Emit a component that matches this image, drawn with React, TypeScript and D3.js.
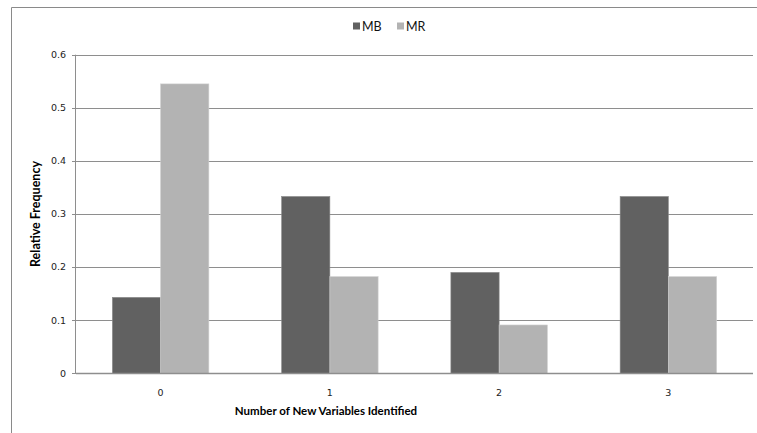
import React from "react";
import * as d3 from "d3";

const categories = ["0", "1", "2", "3"];
const seriesNames = ["MB", "MR"];
const mbValues = [0.143, 0.333, 0.19, 0.333];
const mrValues = [0.545, 0.182, 0.091, 0.182];
const yTicks = [0, 0.1, 0.2, 0.3, 0.4, 0.5, 0.6];
const colors = ["#616161", "#b3b3b3"];

export default function App() {
  const W = 757, H = 433;
  const left = 76, right = 753, top = 54.7, bottom = 373.3;
  const x = d3.scaleBand<string>().domain(categories).range([left, right]).paddingInner(0.43).paddingOuter(0.215);
  const inner = d3.scaleBand<string>().domain(seriesNames).range([0, x.bandwidth()]);
  const y = d3.scaleLinear().domain([0, 0.6]).range([bottom, top]);
  const series = [mbValues, mrValues];
  const tickFont = "Verdana, 'DejaVu Sans', sans-serif";
  const titleFont = "Lato, 'Open Sans', sans-serif";
  return (
    <svg width={W} height={H} style={{ position: "absolute", left: 0, top: 0, background: "#fff" }}>
      <rect x={0} y={0} width={W} height={H} fill="#fff" />
      <path d={`M11.5,${H} V7.5 H${W}`} fill="none" stroke="#8a8a8a" strokeWidth={1} />
      {yTicks.map((t) => (
        <g key={t}>
          {t > 0 && <line x1={left} x2={right} y1={Math.round(y(t)) + 0.5} y2={Math.round(y(t)) + 0.5} stroke="#8e8e8e" strokeWidth={1} />}
          <line x1={72} x2={left} y1={Math.round(y(t)) + 0.5} y2={Math.round(y(t)) + 0.5} stroke="#8e8e8e" />
          <text x={66} y={y(t)} dy="0.35em" textAnchor="end" fontSize={9.5} fontFamily={tickFont} fill="#222">{t === 0 ? "0" : d3.format(".1f")(t)}</text>
        </g>
      ))}
      {categories.map((c, i) => (
        <g key={c}>
          {seriesNames.map((s, j) => {
            const v = series[j][i];
            return (
              <rect key={s} x={(x(c) as number) + (inner(s) as number)} y={y(v)} width={inner.bandwidth()} height={y(0) - y(v)}
                fill={colors[j]} stroke={j === 0 ? "#8a8a8a" : "#cfcfcf"} strokeWidth={0.6} />
            );
          })}
          <text x={(x(c) as number) + x.bandwidth() / 2} y={393} dy="0.35em" textAnchor="middle" fontSize={9.5} fontFamily={tickFont} fill="#222">{c}</text>
        </g>
      ))}
      <line x1={left - 0.5} x2={left - 0.5} y1={top} y2={Math.round(bottom) + 0.5} stroke="#8e8e8e" />
      <line x1={left} x2={right} y1={Math.round(bottom) + 0.5} y2={Math.round(bottom) + 0.5} stroke="#8e8e8e" strokeWidth={1.5} />
      <text x={326} y={411} dy="0.35em" textAnchor="middle" fontSize={11.5} fontWeight="bold" fontFamily={titleFont} fill="#000">Number of New Variables Identified</text>
      <text transform={`translate(36,214) rotate(-90)`} dy="0.35em" textAnchor="middle" fontSize={12.5} fontWeight="bold" fontFamily={titleFont} fill="#000">Relative Frequency</text>
      <g>
        <rect x={353} y={22.5} width={7} height={7} fill={colors[0]} />
        <text x={362} y={26.5} dy="0.35em" fontSize={12.5} fontFamily={titleFont} fill="#111">MB</text>
        <rect x={397} y={22.5} width={7} height={7} fill={colors[1]} />
        <text x={406} y={26.5} dy="0.35em" fontSize={12.5} fontFamily={titleFont} fill="#111">MR</text>
      </g>
    </svg>
  );
}
